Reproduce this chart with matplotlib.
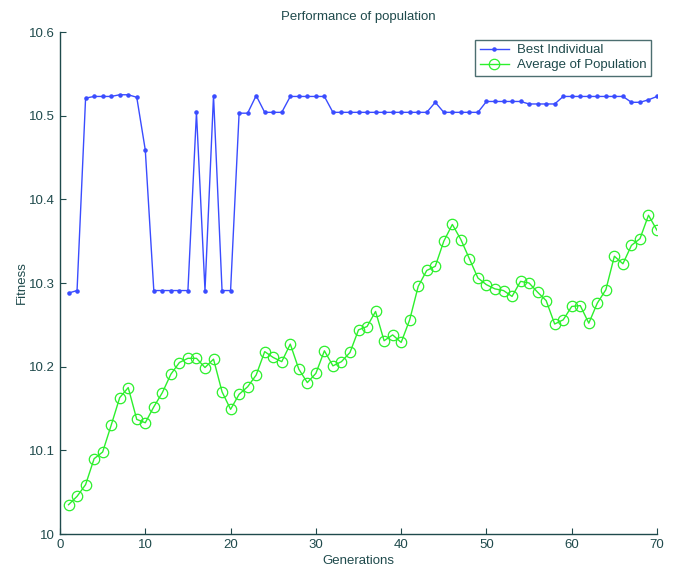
import numpy as np
import matplotlib.pyplot as plt

plt.rcParams['font.family'] = ['Liberation Sans', 'DejaVu Sans']

generations = np.arange(1, 71)

best_individual = [
    10.288, 10.291, 10.521, 10.523, 10.523, 10.523, 10.525, 10.525, 10.522, 10.459,
    10.291, 10.291, 10.291, 10.291, 10.291, 10.504, 10.291, 10.524, 10.291, 10.291,
    10.503, 10.503, 10.524, 10.504, 10.504, 10.504, 10.523, 10.523, 10.523, 10.523,
    10.523, 10.504, 10.504, 10.504, 10.504, 10.504, 10.504, 10.504, 10.504, 10.504,
    10.504, 10.504, 10.504, 10.516, 10.504, 10.504, 10.504, 10.504, 10.504, 10.517,
    10.517, 10.517, 10.517, 10.517, 10.514, 10.514, 10.514, 10.514, 10.523, 10.523,
    10.523, 10.523, 10.523, 10.523, 10.523, 10.523, 10.516, 10.516, 10.519, 10.523,
]

average_population = [
    10.035, 10.045, 10.059, 10.090, 10.098, 10.130, 10.163, 10.175, 10.137, 10.133,
    10.152, 10.169, 10.191, 10.205, 10.210, 10.210, 10.199, 10.209, 10.170, 10.149,
    10.167, 10.176, 10.190, 10.218, 10.211, 10.206, 10.227, 10.197, 10.181, 10.192,
    10.219, 10.201, 10.206, 10.217, 10.244, 10.248, 10.266, 10.231, 10.238, 10.229,
    10.256, 10.296, 10.315, 10.320, 10.350, 10.370, 10.352, 10.329, 10.306, 10.298,
    10.293, 10.291, 10.284, 10.302, 10.300, 10.289, 10.279, 10.251, 10.256, 10.272,
    10.273, 10.252, 10.276, 10.292, 10.332, 10.323, 10.345, 10.353, 10.381, 10.363,
]

ink = '#1f4a4c'

fig = plt.figure(figsize=(6.81, 5.77), dpi=100)
ax = fig.add_axes([0.0881, 0.0745, 0.8767, 0.870])

ax.plot(generations, best_individual, '-', color='#3a4cff', marker='.',
        markersize=4.5, linewidth=1.0, label='Best Individual')
ax.plot(generations, average_population, '-', color='#2cf02c', marker='o',
        markersize=7.5, markerfacecolor='none', markeredgewidth=0.9,
        linewidth=1.0, label='Average of Population')

ax.set_xlim(0, 70)
ax.set_ylim(10, 10.6)
ax.set_xticks(np.arange(0, 71, 10))
ax.set_yticks([10, 10.1, 10.2, 10.3, 10.4, 10.5, 10.6])
ax.set_yticklabels(['10', '10.1', '10.2', '10.3', '10.4', '10.5', '10.6'])

for side in ['top', 'right']:
    ax.spines[side].set_visible(False)
for side in ['left', 'bottom']:
    ax.spines[side].set_color(ink)
    ax.spines[side].set_linewidth(1.0)
ax.tick_params(direction='in', length=4, colors=ink, labelsize=9.5)

ax.set_title('Performance of population', fontsize=9.5, color=ink, pad=9)
ax.set_xlabel('Generations', fontsize=9.5, color=ink, labelpad=3)
ax.set_ylabel('Fitness', fontsize=9.5, color=ink, labelpad=1)

leg = ax.legend(loc='upper right', bbox_to_anchor=(0.99, 0.985), fontsize=9.5,
                frameon=True, fancybox=False, borderpad=0.35, handlelength=2.2,
                labelspacing=0.2, handletextpad=0.6, borderaxespad=0)
leg.get_frame().set_edgecolor(ink)
leg.get_frame().set_linewidth(1.0)
for t in leg.get_texts():
    t.set_color(ink)

fig.savefig('out.png', dpi=100)
